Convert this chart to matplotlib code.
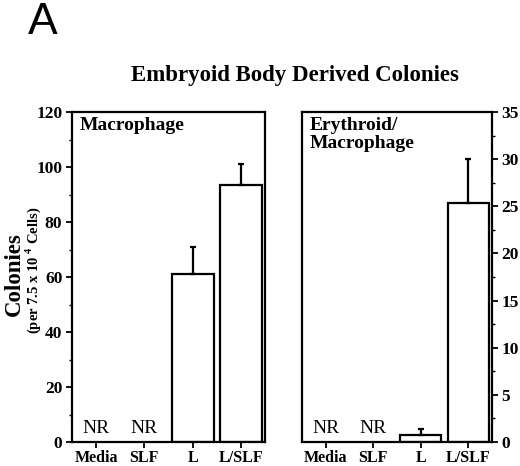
import numpy as np
import matplotlib
matplotlib.use('Agg')
import matplotlib.pyplot as plt
from matplotlib.ticker import MultipleLocator

plt.rcParams['font.family'] = 'Liberation Serif'
plt.rcParams['mathtext.fontset'] = 'custom'
plt.rcParams['mathtext.bf'] = 'Liberation Serif:bold'
plt.rcParams['mathtext.rm'] = 'Liberation Serif:bold'

categories = ['Media', 'SLF', 'L', 'L/SLF']
mac_values = [0, 0, 61, 93.5]
mac_err = [0, 0, 10, 7.5]
ery_values = [0, 0, 0.75, 25.4]
ery_err = [0, 0, 0.65, 4.6]
nr_flags = [True, True, False, False]

fig = plt.figure(figsize=(5.2, 4.66), dpi=100)
ax1 = fig.add_axes([72/520, 24/466, 193/520, 330/466])
ax2 = fig.add_axes([302/520, 24/466, 190/520, 330/466])

x = np.arange(len(categories))


def panel(ax, vals, errs, ymax, major, minor, label, side):
    shown = [v if v > 0 else np.nan for v in vals]
    ax.bar(x, shown, width=0.87, color='white', edgecolor='black', linewidth=1.6)
    for xi, v, e in zip(x, vals, errs):
        if v > 0:
            ax.errorbar(xi, v, yerr=[[0], [e]], color='black', lw=1.6,
                        capsize=2.5, capthick=1.6)
    ax.set_xlim(-0.5, 3.5)
    ax.set_ylim(0, ymax)
    ax.set_xticks(x)
    ax.set_xticklabels(categories, fontweight='bold')
    ax.yaxis.set_major_locator(MultipleLocator(major))
    ax.yaxis.set_minor_locator(MultipleLocator(minor))
    for s in ax.spines.values():
        s.set_linewidth(1.6)
    ax.tick_params(axis='both', which='major', direction='out', length=4, width=1.3,
                   labelsize=12.5, pad=3)
    ax.tick_params(axis='y', which='minor', direction='out', length=2.5, width=1.0)
    ax.tick_params(axis='x', labelsize=11.5, pad=2)
    if side == 'right':
        ax.yaxis.tick_right()
    for t in ax.get_yticklabels():
        t.set_fontweight('bold')
    ax.text(0.04, 0.985, label, transform=ax.transAxes, ha='left', va='top',
            fontsize=14, fontweight='bold', linespacing=1.1)
    for xi, nr in zip(x, nr_flags):
        if nr:
            ax.text(xi, ymax * 0.014, 'NR', ha='center', va='bottom', fontsize=14)


panel(ax1, mac_values, mac_err, 120, 20, 10, 'Macrophage', 'left')
panel(ax2, ery_values, ery_err, 35, 5, 2.5, 'Erythroid/\nMacrophage', 'right')

fig.text(14/520, 1 - 274/466, 'Colonies', rotation=90, ha='center', va='center',
         fontsize=16.5, fontweight='bold')
fig.text(33/520, 1 - 270/466, r'(per 7.5 x 10 $^{4}$ Cells)', rotation=90,
         ha='center', va='center', fontsize=10.5, fontweight='bold')
fig.text(295/520, 1 - 76/466, 'Embryoid Body Derived Colonies', ha='center',
         va='center', fontsize=16.5, fontweight='bold')
fig.text(28/520, 1 - 22/466, 'A', ha='left', va='center', fontsize=32,
         family='Liberation Sans')

fig.savefig('out.png', dpi=100)
